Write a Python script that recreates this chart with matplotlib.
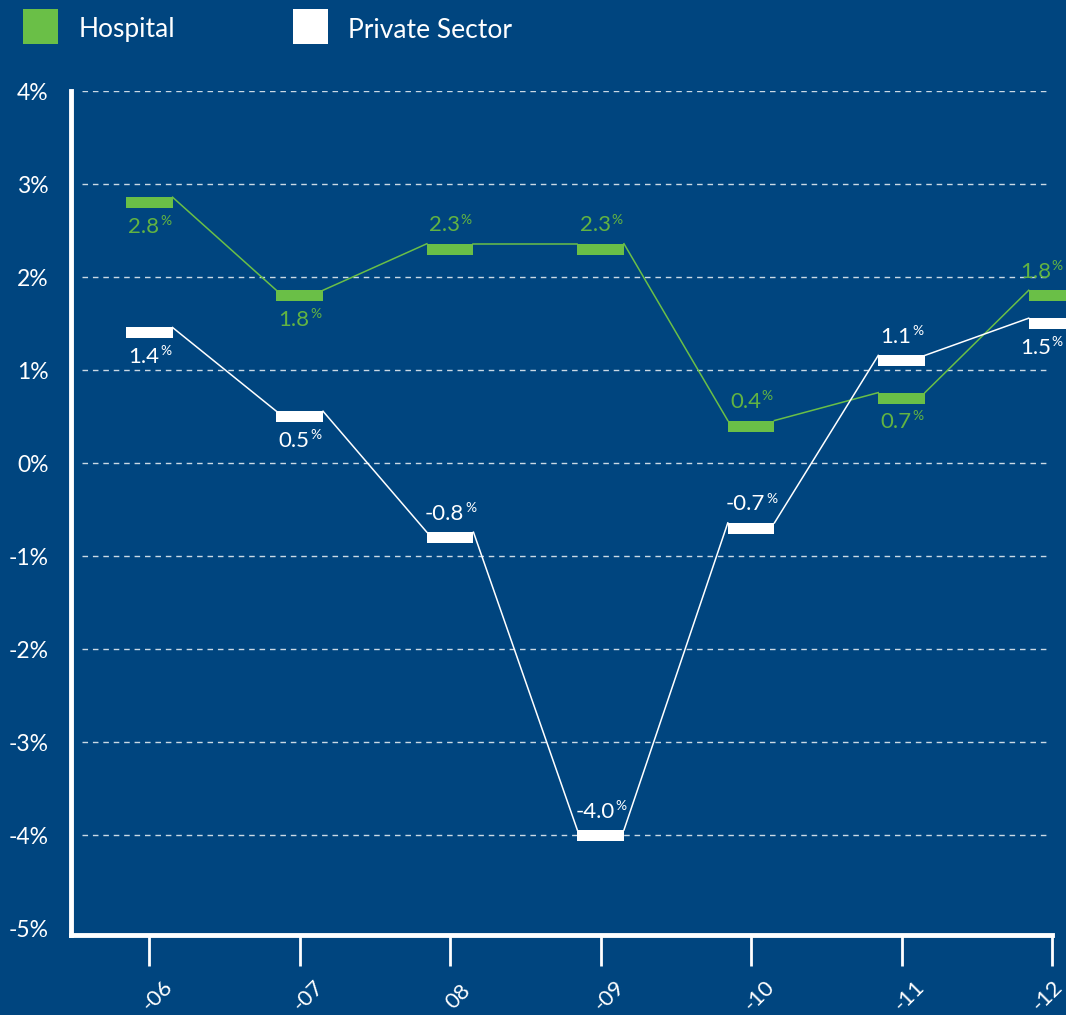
import matplotlib
matplotlib.use("Agg")
import matplotlib.pyplot as plt
from matplotlib.patches import Rectangle

# ---- data -------------------------------------------------------------
years = ["-06", "-07", "08", "-09", "-10", "-11", "-12"]
hospital = [2.8, 1.8, 2.3, 2.3, 0.4, 0.7, 1.8]
private_sector = [1.4, 0.5, -0.8, -4.0, -0.7, 1.1, 1.5]
y_ticks = [4, 3, 2, 1, 0, -1, -2, -3, -4, -5]
y_labels = ["4%", "3%", "2%", "1%", "0%", "-1%", "-2%", "-3%", "-4%", "-5%"]
# label placement for each point: True = above the bar, False = below
hospital_above = [False, False, True, True, True, False, True]
private_above = [False, False, True, True, True, True, False]

# ---- style ------------------------------------------------------------
BG = "#00457f"
GREEN = "#6abf47"
GREEN_TXT = "#62b342"
WHITE = "#ffffff"
FONT = ["Lato", "DejaVu Sans"]
plt.rcParams["font.family"] = FONT
plt.rcParams["font.weight"] = "normal"

fig = plt.figure(figsize=(10.66, 10.15), dpi=100, facecolor=BG)
ax = fig.add_axes([0.0666, 0.0788, 0.9203, 0.8315], facecolor=BG)

x = list(range(len(years)))
bar_w = 0.31      # width of a step in category units
bar_h = 0.118     # thickness of a step in percentage points

ax.set_xlim(-0.52, 6.0)
ax.set_ylim(-5.07, 4.0)

# dashed reference lines
for t in y_ticks[:-1]:
    ax.plot([-0.45, 5.98], [t, t], color="white", lw=1.0, alpha=0.8,
            dashes=(4, 3.5), zorder=1)


def value_label(xi, v, above, color, dx):
    off = 10 if above else -10
    num = ax.annotate(f"{v:.1f}", (xi, v), xytext=(dx - 4, off),
                      textcoords="offset points", ha="center",
                      va="bottom" if above else "top", fontsize=16,
                      color=color, annotation_clip=False, zorder=5)
    # small raised percent sign after the number
    ax.annotate("%", xy=(1, 0), xycoords=num, xytext=(0.5, 7),
                textcoords="offset points", ha="left", va="bottom",
                fontsize=10, color=color, annotation_clip=False, zorder=5)


def draw_series(vals, color, txt_color, above_flags):
    # connectors from the top-right corner of one step to the top-left of the next
    for i in range(len(vals) - 1):
        ax.plot([x[i] + bar_w / 2, x[i + 1] - bar_w / 2],
                [vals[i] + bar_h / 2, vals[i + 1] + bar_h / 2],
                color=color, lw=1.1, zorder=3, clip_on=False)
    for xi, v, above in zip(x, vals, above_flags):
        ax.add_patch(Rectangle((xi - bar_w / 2, v - bar_h / 2), bar_w, bar_h,
                               facecolor=color, edgecolor="none", zorder=4,
                               clip_on=False))
        dx = -8 if xi == x[-1] else 0
        value_label(xi, v, above, txt_color, dx)


draw_series(hospital, GREEN, GREEN_TXT, hospital_above)
draw_series(private_sector, WHITE, WHITE, private_above)

# axes frame
for side in ("top", "right"):
    ax.spines[side].set_visible(False)
for side in ("left", "bottom"):
    ax.spines[side].set_color("white")
    ax.spines[side].set_linewidth(3.5)
ax.spines["left"].set_bounds(-5.07, 4.0)

ax.set_yticks(y_ticks)
ax.set_yticklabels(y_labels)
ax.tick_params(axis="y", length=0, pad=16, labelsize=16.5, labelcolor="white")

ax.set_xticks(x)
ax.set_xticklabels([])
ax.tick_params(axis="x", length=22, width=2, color="white", direction="out")
for xi, lab in zip(x, years):
    dx = -3 if xi == x[-1] else 6
    ax.annotate(lab, (xi, -5.07), xytext=(dx, -44), textcoords="offset points",
                rotation=45, ha="center", va="center", fontsize=16,
                color="white", annotation_clip=False)

# legend
fig.patches.append(Rectangle((23 / 1066, 1 - 44 / 1015), 35 / 1066, 35 / 1015,
                             transform=fig.transFigure, facecolor=GREEN,
                             edgecolor="none"))
fig.patches.append(Rectangle((293 / 1066, 1 - 44 / 1015), 35 / 1066, 35 / 1015,
                             transform=fig.transFigure, facecolor=WHITE,
                             edgecolor="none"))
fig.text(79 / 1066, 1 - 30 / 1015, "Hospital", color="white", fontsize=19,
         va="center", ha="left")
fig.text(348 / 1066, 1 - 30 / 1015, "Private Sector", color="white",
         fontsize=19, va="center", ha="left")

fig.savefig("out.png", dpi=100, facecolor=BG)
